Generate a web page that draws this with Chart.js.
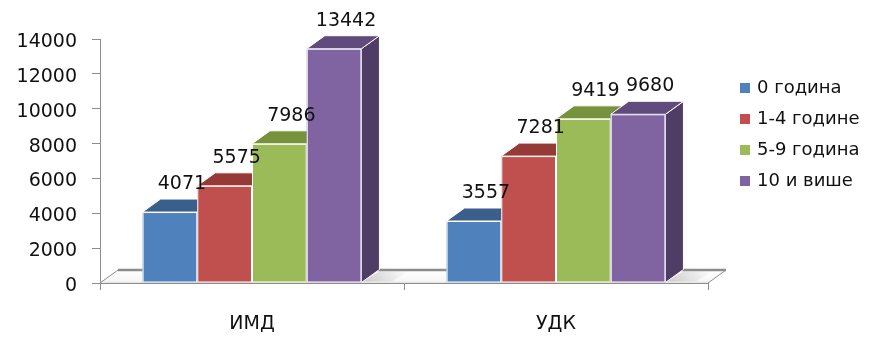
<!DOCTYPE html>
<html>
<head>
<meta charset="utf-8">
<script src="https://cdn.jsdelivr.net/npm/chart.js@4/dist/chart.umd.min.js"></script>
<style>
html, body { margin: 0; padding: 0; background: #fff; }
#wrap { width: 873px; height: 341px; }
</style>
</head>
<body>
<div id="wrap"><canvas id="chart" width="873" height="341"></canvas></div>
<script>
// data
const categories = ['ИМД', 'УДК'];
const seriesNames = ['0 година', '1-4 године', '5-9 година', '10 и више'];
const age0 = [4071, 3557];
const age1to4 = [5575, 7281];
const age5to9 = [7986, 9419];
const age10plus = [13442, 9680];
const yTicks = [0, 2000, 4000, 6000, 8000, 10000, 12000, 14000];

// Excel-ish palette: front, top and side faces
const frontColors = ['#4F81BD', '#C0504D', '#9BBB59', '#8064A2'];
const topColors = ['#3A5F8B', '#953A37', '#76923C', '#614B7C'];
const sideColors = ['#2F4D72', '#7A2F2C', '#5F7630', '#4F3D66'];

const DX = 18, DY = -13; // 3D depth offset
const FONT = 'DejaVu Sans';
const AXIS_GREY = '#8c8c8c';

const seriesValues = [age0, age1to4, age5to9, age10plus];

// floor under the bars
const floorPlugin = {
    id: 'floor',
    beforeDatasetsDraw(chart) {
        const { ctx, chartArea: a } = chart;
        ctx.save();
        ctx.beginPath();
        ctx.moveTo(a.left, a.bottom);
        ctx.lineTo(a.right, a.bottom);
        ctx.lineTo(a.right + DX, a.bottom + DY);
        ctx.lineTo(a.left + DX, a.bottom + DY);
        ctx.closePath();
        const g = ctx.createLinearGradient(0, a.bottom + DY, 0, a.bottom);
        g.addColorStop(0, '#ffffff');
        g.addColorStop(0.8, '#f7f7f7');
        g.addColorStop(1, '#e4e4e4');
        ctx.fillStyle = g;
        ctx.fill();
        ctx.strokeStyle = AXIS_GREY;
        ctx.lineWidth = 1;
        ctx.beginPath();
        ctx.moveTo(a.left, a.bottom);
        ctx.lineTo(a.left + DX, a.bottom + DY);
        ctx.moveTo(a.right, a.bottom);
        ctx.lineTo(a.right + DX, a.bottom + DY);
        ctx.stroke();
        ctx.lineWidth = 2.5;
        ctx.beginPath();
        ctx.moveTo(a.left + DX, a.bottom + DY);
        ctx.lineTo(a.right + DX, a.bottom + DY);
        ctx.stroke();
        ctx.restore();
    }
};

// the library lays the bars out; we paint them as 3D blocks, left to right
const blockPlugin = {
    id: 'blocks',
    afterDatasetsDraw(chart) {
        const { ctx } = chart;
        const n = seriesValues.length;
        ctx.save();
        ctx.strokeStyle = '#ffffff';
        ctx.lineWidth = 1;
        for (let j = 0; j < categories.length; j++) {
            for (let i = 0; i < n; i++) {
                const bar = chart.getDatasetMeta(i).data[j];
                const x0 = bar.x - bar.width / 2;
                const x1 = bar.x + bar.width / 2;
                const top = bar.y, base = bar.base;
                if (i === n - 1) {
                    // soft shadow on the floor
                    const sg = ctx.createLinearGradient(x1, 0, x1 + DX + 30, 0);
                    sg.addColorStop(0, 'rgba(0,0,0,0.18)');
                    sg.addColorStop(1, 'rgba(0,0,0,0)');
                    ctx.fillStyle = sg;
                    ctx.beginPath();
                    ctx.moveTo(x1, base - 1);
                    ctx.lineTo(x1 + DX, base + DY + 2);
                    ctx.lineTo(x1 + DX + 30, base + DY + 2);
                    ctx.lineTo(x1 + 30, base - 1);
                    ctx.closePath();
                    ctx.fill();
                }
                // side
                ctx.fillStyle = sideColors[i];
                ctx.beginPath();
                ctx.moveTo(x1, top);
                ctx.lineTo(x1 + DX, top + DY);
                ctx.lineTo(x1 + DX, base + DY);
                ctx.lineTo(x1, base);
                ctx.closePath();
                ctx.fill();
                ctx.stroke();
                // top
                ctx.fillStyle = topColors[i];
                ctx.beginPath();
                ctx.moveTo(x0, top);
                ctx.lineTo(x1, top);
                ctx.lineTo(x1 + DX, top + DY);
                ctx.lineTo(x0 + DX, top + DY);
                ctx.closePath();
                ctx.fill();
                ctx.stroke();
                // front
                ctx.fillStyle = frontColors[i];
                ctx.fillRect(x0, top, x1 - x0, base - top);
                ctx.strokeRect(x0 + 0.5, top + 0.5, x1 - x0 - 1, base - top - 1);
            }
        }
        // value labels
        ctx.font = '19px "' + FONT + '"';
        ctx.fillStyle = '#111';
        ctx.textAlign = 'center';
        ctx.textBaseline = 'middle';
        chart.data.datasets.forEach((ds, i) => {
            chart.getDatasetMeta(i).data.forEach((bar, j) => {
                ctx.fillText(String(ds.data[j]), bar.x + DX / 2 + 3, bar.y + DY - 15);
            });
        });
        ctx.restore();
    }
};

// legend on the right
const legendPlugin = {
    id: 'sideLegend',
    afterDraw(chart) {
        const { ctx } = chart;
        ctx.save();
        ctx.font = '18px "' + FONT + '"';
        ctx.textBaseline = 'middle';
        seriesNames.forEach((name, i) => {
            const y = 88 + i * 31;
            ctx.fillStyle = frontColors[i];
            ctx.fillRect(740, y - 5, 10, 10);
            ctx.fillStyle = '#111';
            ctx.fillText(name, 757, y);
        });
        ctx.restore();
    }
};

const ctx = document.getElementById('chart').getContext('2d');
new Chart(ctx, {
    type: 'bar',
    data: {
        labels: categories,
        datasets: seriesValues.map((vals, i) => ({
            label: seriesNames[i],
            data: vals,
            backgroundColor: 'rgba(0,0,0,0)',
            borderWidth: 0
        }))
    },
    options: {
        responsive: false,
        animation: false,
        devicePixelRatio: 1,
        layout: { padding: { left: 0, right: 165, top: 39, bottom: 0 } },
        datasets: { bar: { categoryPercentage: 0.72, barPercentage: 1.0 } },
        plugins: {
            legend: { display: false },
            tooltip: { enabled: false }
        },
        scales: {
            x: {
                ticks: { color: '#111', font: { family: FONT, size: 19 }, padding: 23 },
                grid: { offset: true, drawOnChartArea: false, tickLength: 7, color: AXIS_GREY },
                border: { color: AXIS_GREY },
                afterFit(scale) { scale.height = 58; }
            },
            y: {
                min: 0,
                max: 14000,
                afterBuildTicks(scale) { scale.ticks = yTicks.map(v => ({ value: v })); },
                ticks: {
                    color: '#111',
                    font: { family: FONT, size: 19 },
                    padding: 15,
                    labelOffset: 3,
                    callback: v => String(v)
                },
                grid: { drawOnChartArea: false, tickLength: 8, color: AXIS_GREY },
                border: { color: AXIS_GREY },
                afterFit(scale) { scale.width = 100; }
            }
        }
    },
    plugins: [floorPlugin, blockPlugin, legendPlugin]
});
</script>
</body>
</html>
